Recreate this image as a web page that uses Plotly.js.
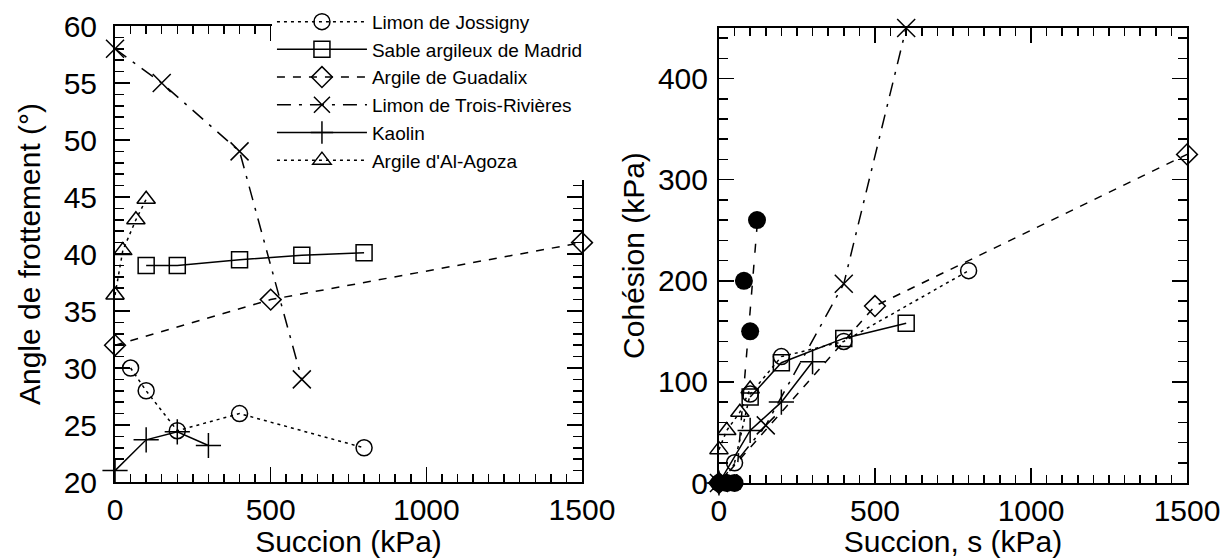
<!DOCTYPE html>
<html>
<head>
<meta charset="utf-8">
<script src="https://cdn.plot.ly/plotly-3.0.1.min.js"></script>
<style>html,body{margin:0;padding:0;background:#fff;}#chart{width:1225px;height:558px;}</style>
</head>
<body>
<div id="chart"></div>
<script>
// ---- Data ----
const seriesNames = ["Limon de Jossigny", "Sable argileux de Madrid", "Argile de Guadalix",
  "Limon de Trois-Rivières", "Kaolin", "Argile d'Al-Agoza"];

// Left panel: friction angle (deg) vs suction (kPa)
const suctionJossigny = [50, 100, 200, 400, 800];
const angleJossigny = [30, 28, 24.5, 26, 23];
const suctionMadrid = [100, 200, 400, 600, 800];
const angleMadrid = [39, 39, 39.5, 39.9, 40.1];
const suctionGuadalix = [0, 500, 1500];
const angleGuadalix = [32, 36, 41];
const suctionTroisRivieres = [0, 150, 400, 600];
const angleTroisRivieres = [58, 55, 49, 29];
const suctionKaolin = [0, 100, 200, 300];
const angleKaolin = [21, 23.7, 24.4, 23.2];
const suctionAlAgoza = [0, 25, 67, 100];
const angleAlAgoza = [36.4, 40.3, 43, 44.8];

// Right panel: cohesion (kPa) vs suction (kPa)
const cSuctionJossigny = [50, 100, 200, 400, 800];
const cohesionJossigny = [20, 88, 125, 140, 210];
const cSuctionMadrid = [100, 200, 400, 600];
const cohesionMadrid = [85, 119, 143, 158];
const cSuctionGuadalix = [0, 500, 1500];
const cohesionGuadalix = [0, 175, 325];
const cSuctionTroisRivieres = [0, 150, 400, 600];
const cohesionTroisRivieres = [0, 57, 197, 450];
const cSuctionKaolin = [0, 100, 200, 300];
const cohesionKaolin = [0, 52, 80, 120];
const cSuctionAlAgoza = [0, 25, 67, 100];
const cohesionAlAgoza = [33, 52, 70, 93];
const suctionFilled = [0, 25, 50, 80, 100, 122];
const cohesionFilled = [0, 0, 0, 200, 150, 260];
const suctionFilledTrend = [55, 125];
const cohesionFilledTrend = [0, 265];

// ---- Styles ----
const FONT = "Liberation Sans, Arial, Helvetica, sans-serif";
const styles = [
  {symbol: "circle-open", dash: "3px,4px", size: 16},
  {symbol: "square-open", dash: "solid", size: 16},
  {symbol: "diamond-open", dash: "8px,8px", size: 16},
  {symbol: "x-thin-open", dash: "14px,8px,3px,8px", size: 18},
  {symbol: "cross-thin-open", dash: "solid", size: 18},
  {symbol: "triangle-up-open", dash: "3px,4px", size: 16}
];

const leftX = [suctionJossigny, suctionMadrid, suctionGuadalix, suctionTroisRivieres, suctionKaolin, suctionAlAgoza];
const leftY = [angleJossigny, angleMadrid, angleGuadalix, angleTroisRivieres, angleKaolin, angleAlAgoza];
const rightX = [cSuctionJossigny, cSuctionMadrid, cSuctionGuadalix, cSuctionTroisRivieres, cSuctionKaolin, cSuctionAlAgoza];
const rightY = [cohesionJossigny, cohesionMadrid, cohesionGuadalix, cohesionTroisRivieres, cohesionKaolin, cohesionAlAgoza];

const traces = [];
for (let i = 0; i < seriesNames.length; i++) {
  const st = styles[i];
  traces.push({
    x: leftX[i], y: leftY[i], name: seriesNames[i], type: "scatter", mode: "lines+markers",
    xaxis: "x", yaxis: "y", cliponaxis: false,
    line: {color: "black", width: 1.5, dash: st.dash},
    marker: {symbol: st.symbol, size: st.size, color: "black", line: {color: "black", width: 1.5}}
  });
}
for (let i = 0; i < seriesNames.length; i++) {
  const st = styles[i];
  traces.push({
    x: rightX[i], y: rightY[i], name: seriesNames[i], type: "scatter", mode: "lines+markers",
    xaxis: "x2", yaxis: "y2", cliponaxis: false, showlegend: false,
    line: {color: "black", width: 1.5, dash: st.dash},
    marker: {symbol: st.symbol, size: st.size, color: "black", line: {color: "black", width: 1.5}}
  });
}
traces.push({
  x: suctionFilledTrend, y: cohesionFilledTrend, type: "scatter", mode: "lines",
  xaxis: "x2", yaxis: "y2", showlegend: false, cliponaxis: false,
  line: {color: "black", width: 1.5, dash: "9px,12px"}
});
traces.push({
  x: suctionFilled, y: cohesionFilled, type: "scatter", mode: "markers",
  xaxis: "x2", yaxis: "y2", showlegend: false, cliponaxis: false,
  marker: {symbol: "circle", size: 18, color: "black"}
});

const axisCommon = {
  showline: true, linecolor: "black", linewidth: 2, mirror: "ticks",
  ticks: "inside", ticklen: 15, tickwidth: 1.5, tickcolor: "black",
  showgrid: false, zeroline: false, fixedrange: true,
  tickfont: {family: FONT, size: 30, color: "black"}
};

const layout = {
  width: 1225, height: 558,
  margin: {l: 0, r: 0, t: 0, b: 0},
  paper_bgcolor: "white", plot_bgcolor: "white",
  font: {family: FONT, color: "black"},
  showlegend: true,
  legend: {
    x: 0.222, y: 0.995, xanchor: "left", yanchor: "top",
    bgcolor: "white", borderwidth: 0, itemwidth: 90, tracegroupgap: 0,
    font: {family: FONT, size: 19, color: "black"}
  },
  xaxis: Object.assign({}, axisCommon, {
    domain: [0.0939, 0.4751], range: [0, 1500], anchor: "y",
    dtick: 500, tick0: 0,
    minor: {dtick: 50, ticks: "inside", ticklen: 8, tickwidth: 1.5, tickcolor: "black"},
    title: {text: "Succion (kPa)", font: {family: FONT, size: 30, color: "black"}, standoff: 4}
  }),
  yaxis: Object.assign({}, axisCommon, {
    domain: [0.1362, 0.9534], range: [20, 60], anchor: "x",
    dtick: 5, tick0: 20, ticklabelstandoff: 10,
    minor: {dtick: 1, ticks: "inside", ticklen: 9, tickwidth: 1.5, tickcolor: "black"},
    title: {text: "Angle de frottement (°)", font: {family: FONT, size: 30, color: "black"}, standoff: 14}
  }),
  xaxis2: Object.assign({}, axisCommon, {
    domain: [0.5869, 0.969], range: [0, 1500], anchor: "y2",
    dtick: 500, tick0: 0,
    minor: {dtick: 50, ticks: "inside", ticklen: 8, tickwidth: 1.5, tickcolor: "black"},
    title: {text: "Succion, s (kPa)", font: {family: FONT, size: 30, color: "black"}, standoff: 4}
  }),
  yaxis2: Object.assign({}, axisCommon, {
    domain: [0.1344, 0.9498], range: [0, 450], anchor: "x2",
    dtick: 100, tick0: 0, ticklabelstandoff: 3,
    minor: {dtick: 20, ticks: "inside", ticklen: 9, tickwidth: 1.5, tickcolor: "black"},
    title: {text: "Cohésion (kPa)", font: {family: FONT, size: 30, color: "black"}, standoff: 4}
  })
};

Plotly.newPlot("chart", traces, layout, {displayModeBar: false, staticPlot: true});
</script>
</body>
</html>
